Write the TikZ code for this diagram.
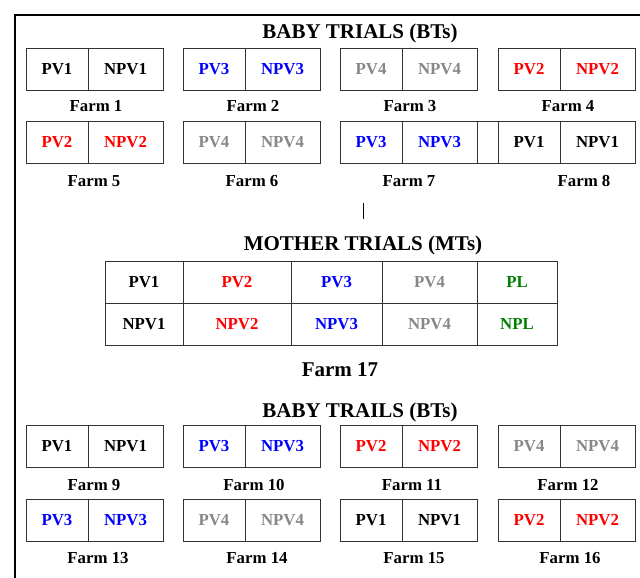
\documentclass[tikz,border=0pt]{standalone}
\usepackage{fontspec}
\setmainfont{Liberation Serif}
\definecolor{pvred}{RGB}{255,0,0}
\definecolor{pvblue}{RGB}{0,0,255}
\definecolor{pvgray}{RGB}{135,135,135}
\definecolor{pvgreen}{RGB}{0,128,0}
\begin{document}
\begin{tikzpicture}[x=1pt,y=-1pt,
    cell/.style={draw=black!80, line width=0.8pt, minimum height=42pt, inner sep=0pt,
      font=\bfseries\fontsize{16.8}{17}\selectfont},
    pva/.style={cell, minimum width=62pt},
    pvb/.style={cell, minimum width=75pt},
    farm/.style={inner sep=0pt, font=\bfseries\fontsize{16.8}{17}\selectfont},
    heading/.style={inner sep=0pt, font=\bfseries\fontsize{21}{22}\selectfont}]
  \useasboundingbox (0,0) rectangle (640,578);
  % frame
  \draw[line width=1.6pt] (15,578) -- (15,15) -- (640,15);
  % baby trials, upper part
  \draw
    (360,33.5) node[heading] (bt1){BABY TRIALS (BTs)}
    (57,69) node[pva] (f1a){PV1}
    (125.5,69) node[pvb] (f1b){NPV1}
    (214,69) node[pva, text=pvblue] (f2a){PV3}
    (282.5,69) node[pvb, text=pvblue] (f2b){NPV3}
    (371,69) node[pva, text=pvgray] (f3a){PV4}
    (439.5,69) node[pvb, text=pvgray] (f3b){NPV4}
    (529,69) node[pva, text=pvred] (f4a){PV2}
    (597.5,69) node[pvb, text=pvred] (f4b){NPV2}
    (96,106) node[farm] (l1){Farm 1}
    (253,106) node[farm] (l2){Farm 2}
    (410,106) node[farm] (l3){Farm 3}
    (568,106) node[farm] (l4){Farm 4}
    (57,142) node[pva, text=pvred] (f5a){PV2}
    (125.5,142) node[pvb, text=pvred] (f5b){NPV2}
    (214,142) node[pva, text=pvgray] (f6a){PV4}
    (282.5,142) node[pvb, text=pvgray] (f6b){NPV4}
    (371,142) node[pva, text=pvblue] (f7a){PV3}
    (439.5,142) node[pvb, text=pvblue] (f7b){NPV3}
    (487.5,142) node[cell, minimum width=21pt] (gap){}
    (529,142) node[pva] (f8a){PV1}
    (597.5,142) node[pvb] (f8b){NPV1}
    (94,181) node[farm] (l5){Farm 5}
    (252,181) node[farm] (l6){Farm 6}
    (409,181) node[farm] (l7){Farm 7}
    (584,181) node[farm] (l8){Farm 8};
  % link to the mother trials
  \coordinate (up) at (363,203);
  \coordinate (down) at (363,219);
  \draw[line width=0.9pt] (up) -- (down);
  % mother trials
  \draw
    (363,245) node[heading] (mt){MOTHER TRIALS (MTs)}
    (144,282) node[cell, minimum width=78pt] (m1a){PV1}
    (144,324) node[cell, minimum width=78pt] (m1b){NPV1}
    (237,282) node[cell, minimum width=108pt, text=pvred] (m2a){PV2}
    (237,324) node[cell, minimum width=108pt, text=pvred] (m2b){NPV2}
    (336.5,282) node[cell, minimum width=91pt, text=pvblue] (m3a){PV3}
    (336.5,324) node[cell, minimum width=91pt, text=pvblue] (m3b){NPV3}
    (429.5,282) node[cell, minimum width=95pt, text=pvgray] (m4a){PV4}
    (429.5,324) node[cell, minimum width=95pt, text=pvgray] (m4b){NPV4}
    (517,282) node[cell, minimum width=80pt, text=pvgreen] (m5a){PL}
    (517,324) node[cell, minimum width=80pt, text=pvgreen] (m5b){NPL}
    (340,370) node[heading] (l17){Farm 17};
  % baby trails, lower part
  \draw
    (360,412) node[heading] (bt2){BABY TRAILS (BTs)}
    (57,446.5) node[pva] (f9a){PV1}
    (125.5,446.5) node[pvb] (f9b){NPV1}
    (214,446.5) node[pva, text=pvblue] (f10a){PV3}
    (282.5,446.5) node[pvb, text=pvblue] (f10b){NPV3}
    (371,446.5) node[pva, text=pvred] (f11a){PV2}
    (439.5,446.5) node[pvb, text=pvred] (f11b){NPV2}
    (529,446.5) node[pva, text=pvgray] (f12a){PV4}
    (597.5,446.5) node[pvb, text=pvgray] (f12b){NPV4}
    (94,485) node[farm] (l9){Farm 9}
    (254,485) node[farm] (l10){Farm 10}
    (412,485) node[farm] (l11){Farm 11}
    (568,485) node[farm] (l12){Farm 12}
    (57,520) node[pva, text=pvblue] (f13a){PV3}
    (125.5,520) node[pvb, text=pvblue] (f13b){NPV3}
    (214,520) node[pva, text=pvgray] (f14a){PV4}
    (282.5,520) node[pvb, text=pvgray] (f14b){NPV4}
    (371,520) node[pva] (f15a){PV1}
    (439.5,520) node[pvb] (f15b){NPV1}
    (529,520) node[pva, text=pvred] (f16a){PV2}
    (597.5,520) node[pvb, text=pvred] (f16b){NPV2}
    (98,558) node[farm] (l13){Farm 13}
    (257,558) node[farm] (l14){Farm 14}
    (414,558) node[farm] (l15){Farm 15}
    (570,558) node[farm] (l16){Farm 16};
\end{tikzpicture}
\end{document}
